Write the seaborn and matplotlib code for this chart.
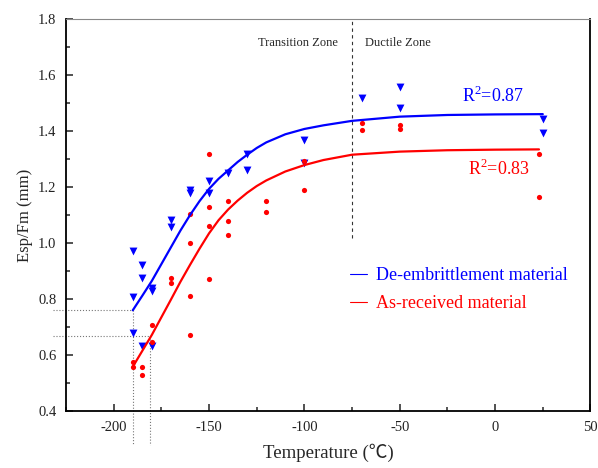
import numpy as np
import matplotlib
matplotlib.use('Agg')
import matplotlib.pyplot as plt
from matplotlib.lines import Line2D
from matplotlib.ticker import MultipleLocator
import seaborn as sns
import pandas as pd

# measured points, De-embrittlement material (blue triangles)
de_temp = [-190, -190, -190, -185, -185, -185, -180, -180, -180,
           -170, -170, -160, -160, -150, -150, -140, -130, -130,
           -100, -100, -70, -50, -50, 25, 25]
de_val = [0.973, 0.806, 0.678, 0.922, 0.874, 0.633, 0.838, 0.830, 0.633,
          1.083, 1.059, 1.190, 1.180, 1.222, 1.178, 1.252, 1.318, 1.263,
          1.370, 1.285, 1.518, 1.559, 1.484, 1.444, 1.392]

# measured points, As-received material (red circles)
ar_temp = [-190, -190, -185, -185, -180, -180, -170, -170,
           -160, -160, -160, -160, -150, -150, -150, -150,
           -140, -140, -140, -120, -120, -100, -100, -70, -70,
           -50, -50, 23, 23]
ar_val = [0.576, 0.558, 0.556, 0.529, 0.709, 0.645, 0.876, 0.858,
          1.104, 0.999, 0.812, 0.672, 1.318, 1.130, 1.061, 0.873,
          1.152, 1.080, 1.029, 1.150, 1.111, 1.294, 1.189, 1.429, 1.403,
          1.421, 1.407, 1.318, 1.166]

# fitted curves
de_fit_temp = [-190, -185, -180, -175, -170, -165, -160, -155, -150, -145, -140,
               -135, -130, -125, -120, -110, -100, -90, -75, -50, -25, 0, 25]
de_fit_val = [0.760, 0.812, 0.865, 0.925, 0.985, 1.045, 1.100, 1.150, 1.194, 1.230, 1.260,
              1.290, 1.316, 1.340, 1.360, 1.389, 1.408, 1.421, 1.437, 1.452, 1.458, 1.460, 1.461]
ar_fit_temp = [-190, -185, -180, -175, -170, -165, -160, -155, -150, -145, -140,
               -135, -130, -125, -120, -110, -100, -90, -75, -50, -25, 0, 23]
ar_fit_val = [0.558, 0.615, 0.672, 0.735, 0.798, 0.862, 0.922, 0.980, 1.035, 1.082, 1.120,
              1.152, 1.180, 1.204, 1.224, 1.256, 1.279, 1.297, 1.316, 1.327, 1.332, 1.334, 1.335]

# reference guide lines
de_ref = (-190, 0.761)
ar_ref = (-181, 0.668)
zone_temp = -75

if __name__ == '__main__':
    sns.set_style('ticks')
    plt.rcParams['font.family'] = ['Liberation Serif', 'Noto Sans CJK SC']
    plt.rcParams['axes.unicode_minus'] = False

    de = pd.DataFrame({'T': de_temp, 'v': de_val})
    ar = pd.DataFrame({'T': ar_temp, 'v': ar_val})
    de_fit = pd.DataFrame({'T': de_fit_temp, 'v': de_fit_val})
    ar_fit = pd.DataFrame({'T': ar_fit_temp, 'v': ar_fit_val})

    fig = plt.figure(figsize=(5.98, 4.68), dpi=100)
    ax = fig.add_axes([0.1104, 0.1218, 0.877, 0.837])

    sns.scatterplot(data=de, x='T', y='v', ax=ax, color='#0000ff', marker='v',
                    s=32, linewidth=0, zorder=3)
    sns.scatterplot(data=ar, x='T', y='v', ax=ax, color='#ff0000', marker='o',
                    s=14, linewidth=0, zorder=3)
    sns.lineplot(data=de_fit, x='T', y='v', ax=ax, color='#0000ff', lw=1.6,
                 sort=False, estimator=None, zorder=4)
    sns.lineplot(data=ar_fit, x='T', y='v', ax=ax, color='#ff0000', lw=1.6,
                 sort=False, estimator=None, zorder=4)

    ax.set_xlim(-225, 50)
    ax.set_ylim(0.4, 1.8)
    ax.xaxis.set_major_locator(MultipleLocator(50))
    ax.xaxis.set_minor_locator(MultipleLocator(25))
    ax.yaxis.set_major_locator(MultipleLocator(0.2))
    ax.yaxis.set_minor_locator(MultipleLocator(0.1))
    ax.yaxis.set_major_formatter(matplotlib.ticker.FormatStrFormatter('%.1f'))
    ax.tick_params(which='major', direction='in', length=5, width=1.1,
                   labelsize=10.5, pad=7, colors='#222222')
    ax.tick_params(which='minor', direction='in', length=3, width=1.1)
    for side in ['left', 'bottom', 'right', 'top']:
        ax.spines[side].set_linewidth(1.3)
        ax.spines[side].set_color('black')
    ax.spines['top'].set_color('#888888')
    ax.spines['top'].set_linewidth(0.8)

    ax.set_xlabel('Temperature (℃)', fontsize=13.5, labelpad=7)
    ax.set_ylabel('Esp/Fm (mm)', fontsize=12, labelpad=3.5)

    # dotted guide lines to the axes
    for tx, vy in [de_ref, ar_ref]:
        ax.plot([-232, tx], [vy, vy], ls=':', color='#777777', lw=0.8, clip_on=False)
        ax.plot([tx, tx], [vy, 0.278], ls=':', color='#777777', lw=0.8, clip_on=False)

    # zone boundary
    ax.plot([zone_temp, zone_temp], [1.02, 1.8], ls=(0, (3, 3)), color='#333333', lw=0.8)
    ax.text(zone_temp - 7.5, 1.715, 'Transition Zone', ha='right', va='center', fontsize=9)
    ax.text(zone_temp + 7, 1.715, 'Ductile Zone', ha='left', va='center', fontsize=9)

    ax.text(-17.4, 1.525, r'R$^\mathregular{2}$=0.87', color='#0000ff', fontsize=13, va='center')
    ax.text(-14.3, 1.265, r'R$^\mathregular{2}$=0.83', color='#ff0000', fontsize=13, va='center')

    handles = [Line2D([], [], color='#0000ff', lw=0.8),
               Line2D([], [], color='#ff0000', lw=0.8)]
    leg = ax.legend(handles, ['De-embrittlement material', 'As-received material'],
                    loc='upper left', bbox_to_anchor=(0.5415, 0.367), frameon=False,
                    fontsize=13, handlelength=0.95, handletextpad=0.5,
                    borderpad=0, borderaxespad=0, labelspacing=0.62)
    for txt, c in zip(leg.get_texts(), ['#0000ff', '#ff0000']):
        txt.set_color(c)

    fig.savefig('out.png', dpi=100)
